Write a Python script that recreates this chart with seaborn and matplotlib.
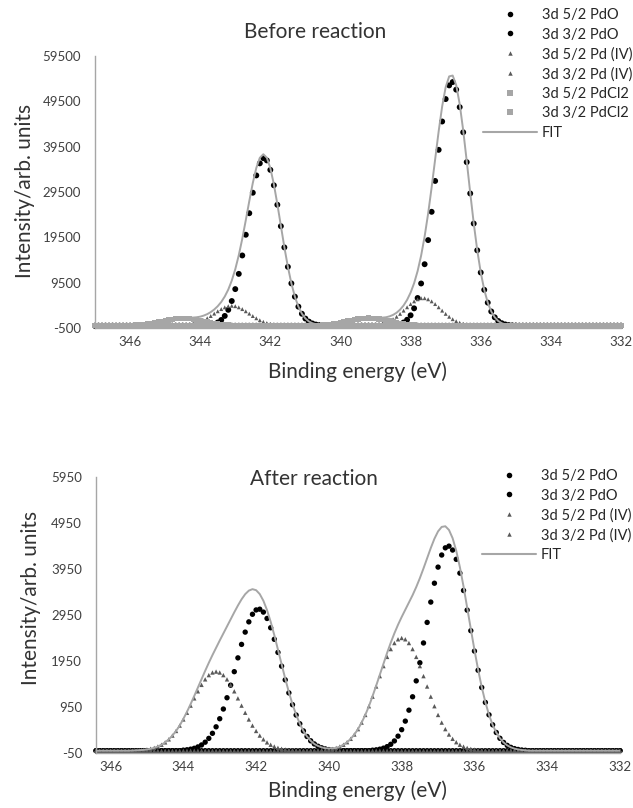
import numpy as np
import matplotlib
matplotlib.use("Agg")
import matplotlib.pyplot as plt
from matplotlib.lines import Line2D
import seaborn as sns

sns.set_style("white")
plt.rcParams["font.family"] = ["Lato", "DejaVu Sans"]

# ---------------- data (0.1 eV sampling) ----------------
top_energy = np.round(np.arange(347.0, 331.95, -0.1), 1)
bot_energy = np.round(np.arange(346.4, 331.95, -0.1), 1)

top_xticks = [346, 344, 342, 340, 338, 336, 334, 332]
top_yticks = [-500, 9500, 19500, 29500, 39500, 49500, 59500]
bot_xticks = [346, 344, 342, 340, 338, 336, 334, 332]
bot_yticks = [-50, 950, 1950, 2950, 3950, 4950, 5950]

top_labels = ["3d 5/2 PdO", "3d 3/2 PdO", "3d 5/2 Pd (IV)", "3d 3/2 Pd (IV)",
              "3d 5/2 PdCl2", "3d 3/2 PdCl2", "FIT"]
bot_labels = ["3d 5/2 PdO", "3d 3/2 PdO", "3d 5/2 Pd (IV)", "3d 3/2 Pd (IV)", "FIT"]

# --- Before reaction (first non-zero energy, then values every 0.1 eV downwards)
top_pdo52_start = 338.6
top_pdo52 = [41, 90, 190, 380, 720, 1320, 2300, 3840, 6120, 9320,
             13570, 18890, 25130, 31940, 38800, 45050, 50000, 53020, 53750, 52080,
             48220, 42670, 36090, 29180, 22540, 16640, 11740, 7920, 5100, 3150,
             1850, 1040, 560, 290, 140, 66, 30]
top_pdo32_start = 343.9
top_pdo32 = [46, 97, 200, 390, 720, 1270, 2160, 3510, 5450, 8080,
             11440, 15500, 20070, 24820, 29340, 33160, 35820, 36960, 36470, 34380,
             30980, 26680, 21960, 17280, 12990, 9340, 6410, 4210, 2640, 1580,
             910, 500, 260, 130, 62, 28]
top_pd4_52_start = 339.4
top_pd4_52 = [13, 26, 50, 90, 160, 270, 430, 670, 1000, 1440,
              1980, 2620, 3330, 4070, 4780, 5380, 5830, 6070, 6070, 5830,
              5380, 4780, 4070, 3330, 2620, 1980, 1440, 1000, 670, 430,
              270, 160, 90, 50, 26, 13]
top_pd4_32_start = 344.8
top_pd4_32 = [14, 26, 49, 87, 150, 250, 390, 590, 870, 1220,
              1650, 2140, 2670, 3190, 3670, 4060, 4310, 4400, 4310, 4060,
              3670, 3190, 2670, 2140, 1650, 1220, 870, 590, 390, 250,
              150, 87, 49, 26, 14]
top_pdcl2_52_start = 341.2
top_pdcl2_52 = [7, 11, 19, 31, 49, 75, 112, 163, 230, 316,
                423, 553, 699, 860, 1031, 1202, 1362, 1500, 1608, 1676,
                1700, 1676, 1608, 1500, 1362, 1202, 1031, 860, 699, 553,
                423, 316, 230, 163, 112, 75, 49, 31, 19, 11, 7]
top_pdcl2_32_start = 346.5
top_pdcl2_32 = [6, 11, 18, 29, 46, 70, 105, 150, 220, 300,
                400, 520, 660, 810, 970, 1130, 1280, 1410, 1510, 1580,
                1600, 1580, 1510, 1410, 1280, 1130, 970, 810, 660, 520,
                400, 300, 220, 150, 105, 70, 46, 29, 18, 11, 6]
top_fit_start = 346.5
top_fit = [6, 11, 18, 29, 46, 70, 105, 150, 220, 300,
           400, 520, 660, 810, 970, 1130, 1280, 1424, 1536, 1629,
           1687, 1730, 1760, 1800, 1870, 2000, 2236, 2557, 3000, 3580,
           4310, 5240, 6440, 7970, 9955, 12460, 15546, 19199, 23278, 27501,
           31486, 34810, 37040, 37830, 37060, 34770, 31230, 26830, 22047, 17329,
           13016, 9354, 6410, 4217, 2651, 1599, 941, 549, 335, 242,
           225, 258, 316, 423, 553, 699, 860, 1031, 1202, 1362,
           1500, 1621, 1702, 1750, 1766, 1768, 1770, 1792, 1872, 2072,
           2390, 2869, 3553, 4473, 5706, 7310, 9383, 12062, 15465, 19689,
           24751, 30529, 36731, 42877, 48380, 52620, 55000, 55190, 53080, 48890,
           43100, 36360, 29340, 22630, 16690, 11766, 7933, 5100, 3150, 1850,
           1040, 560, 290, 140, 66, 30]

# --- After reaction
bot_pdo52_start = 338.8
bot_pdo52 = [11, 19, 33, 55, 88, 139, 212, 316, 457, 643,
             881, 1172, 1518, 1912, 2342, 2789, 3231, 3641, 3991, 4254,
             4410, 4447, 4362, 4161, 3860, 3483, 3057, 2609, 2166, 1749,
             1374, 1049, 780, 563, 396, 270, 180, 116, 73, 45, 27, 15, 9]
bot_pdo32_start = 344.0
bot_pdo32 = [12, 20, 33, 52, 82, 125, 185, 268, 378, 519,
             695, 906, 1151, 1424, 1718, 2018, 2311, 2578, 2801, 2966,
             3060, 3076, 3013, 2875, 2673, 2422, 2137, 1838, 1540, 1257,
             1000, 775, 585, 430, 309, 215, 147, 97, 63, 39, 24, 14]
bot_pd4_52_start = 340.3
bot_pd4_52 = [6, 10, 15, 25, 39, 60, 89, 130, 185, 258,
              352, 469, 611, 777, 967, 1175, 1396, 1621, 1839, 2039,
              2209, 2340, 2422, 2450, 2422, 2340, 2209, 2039, 1839, 1621,
              1396, 1175, 967, 777, 611, 469, 352, 258, 185, 130,
              89, 60, 39, 25, 15, 10, 6]
bot_pd4_32_start = 345.4
bot_pd4_32 = [4, 7, 11, 17, 27, 42, 62, 91, 130, 181,
              247, 329, 429, 546, 679, 825, 980, 1138, 1291, 1431,
              1551, 1643, 1700, 1720, 1700, 1643, 1551, 1431, 1291, 1138,
              980, 825, 679, 546, 429, 329, 247, 181, 130, 91,
              62, 42, 27, 17, 11, 7, 4]
bot_fit_start = 345.4
bot_fit = [4, 7, 11, 17, 27, 42, 62, 91, 130, 181,
           247, 329, 429, 546, 691, 845, 1013, 1190, 1373, 1556,
           1736, 1911, 2078, 2239, 2395, 2549, 2702, 2855, 3009, 3156,
           3291, 3403, 3480, 3512, 3489, 3405, 3260, 3056, 2803, 2513,
           2199, 1880, 1567, 1274, 1011, 782, 589, 430, 309, 215,
           147, 103, 73, 54, 49, 53, 60, 89, 130, 185,
           258, 352, 469, 611, 777, 967, 1186, 1415, 1654, 1894,
           2127, 2348, 2552, 2738, 2907, 3065, 3221, 3381, 3557, 3751,
           3963, 4185, 4406, 4608, 4768, 4865, 4879, 4799, 4620, 4346,
           3990, 3572, 3117, 2648, 2191, 1764, 1384, 1055, 780, 563,
           396, 270, 180, 116, 73, 45, 27, 15, 9]


def spread(grid, start, vals):
    """Place the read values on the full energy grid (zero elsewhere)."""
    y = np.zeros(len(grid))
    i = int(np.argmin(np.abs(grid - start)))
    y[i:i + len(vals)] = vals
    return y


# ---------------- styles ----------------
CIRC = dict(marker="o", color="black", s=18)
TRI_T = dict(marker="^", color="#595959", s=8)
SQ = dict(marker="s", color="#a6a6a6", s=14)
TRI_B = dict(marker="^", color="#595959", s=10)
CIRC_B = dict(marker="o", color="black", s=15)
FIT_COLOR = "#a6a6a6"
AX_COLOR = "#a6a6a6"
TXT = "#404040"

W, H = 633, 808
fig = plt.figure(figsize=(W / 100, H / 100), dpi=100)


def fx(px):
    return px / W


def fy(py):
    return 1 - py / H


ax1 = fig.add_axes([fx(95), fy(328), (621 - 95) / W, (328 - 56) / H])
ax2 = fig.add_axes([fx(96), fy(753), (620 - 96) / W, (753 - 477) / H])


def scat(ax, x, y, st):
    sns.scatterplot(x=x, y=y, marker=st["marker"], color=st["color"], s=st["s"],
                    edgecolor="none", linewidth=0, ax=ax, legend=False, clip_on=False)


# ---- top chart
scat(ax1, top_energy, spread(top_energy, top_pdo52_start, top_pdo52), CIRC)
scat(ax1, top_energy, spread(top_energy, top_pdo32_start, top_pdo32), CIRC)
scat(ax1, top_energy, spread(top_energy, top_pd4_52_start, top_pd4_52), TRI_T)
scat(ax1, top_energy, spread(top_energy, top_pd4_32_start, top_pd4_32), TRI_T)
scat(ax1, top_energy, spread(top_energy, top_pdcl2_52_start, top_pdcl2_52), SQ)
scat(ax1, top_energy, spread(top_energy, top_pdcl2_32_start, top_pdcl2_32), SQ)
sns.lineplot(x=top_energy, y=spread(top_energy, top_fit_start, top_fit), sort=False,
             estimator=None, color=FIT_COLOR, lw=1.4, ax=ax1, legend=False)

# ---- bottom chart
scat(ax2, bot_energy, spread(bot_energy, bot_pdo52_start, bot_pdo52), CIRC_B)
scat(ax2, bot_energy, spread(bot_energy, bot_pdo32_start, bot_pdo32), CIRC_B)
scat(ax2, bot_energy, spread(bot_energy, bot_pd4_52_start, bot_pd4_52), TRI_B)
scat(ax2, bot_energy, spread(bot_energy, bot_pd4_32_start, bot_pd4_32), TRI_B)
sns.lineplot(x=bot_energy, y=spread(bot_energy, bot_fit_start, bot_fit), sort=False,
             estimator=None, color=FIT_COLOR, lw=1.4, ax=ax2, legend=False)

for ax, xlim, ylim, xt, yt in [(ax1, (347, 332), (-500, 59500), top_xticks, top_yticks),
                               (ax2, (346.4, 332), (-50, 5950), bot_xticks, bot_yticks)]:
    ax.set_xlim(*xlim)
    ax.set_ylim(*ylim)
    ax.set_xticks(xt)
    ax.set_yticks(yt)
    ax.set_xticklabels([str(v) for v in xt])
    ax.set_yticklabels([str(v) for v in yt])
    ax.set_xlabel("")
    ax.set_ylabel("")
    ax.tick_params(axis="both", length=0, labelsize=9.5, labelcolor=TXT)
    ax.tick_params(axis="y", pad=10)
    ax.tick_params(axis="x", pad=6)
    for side in ["top", "right"]:
        ax.spines[side].set_visible(False)
    for side in ["left", "bottom"]:
        ax.spines[side].set_color(AX_COLOR)
        ax.spines[side].set_linewidth(1.0)
    ax.grid(False)
    ax.set_facecolor("none")

# titles / axis titles
TFS = 15
fig.text(fx(315), fy(32), "Before reaction", ha="center", va="center", fontsize=TFS, color="#333333")
fig.text(fx(314), fy(479), "After reaction", ha="center", va="center", fontsize=TFS, color="#333333")
fig.text(fx(358), fy(372), "Binding energy (eV)", ha="center", va="center", fontsize=TFS, color="#333333")
fig.text(fx(358), fy(791), "Binding energy (eV)", ha="center", va="center", fontsize=TFS, color="#333333")
fig.text(fx(25), fy(191), "Intensity/arb. units", ha="center", va="center", rotation=90,
         fontsize=TFS, color="#333333")
fig.text(fx(31), fy(598), "Intensity/arb. units", ha="center", va="center", rotation=90,
         fontsize=TFS, color="#333333")


# legends
def handles(kinds):
    hs = []
    for k in kinds:
        if k == "fit":
            hs.append(Line2D([], [], color=FIT_COLOR, lw=1.5))
        else:
            st = {"c": ("o", "black", 4.0), "t": ("^", "#595959", 3.2), "s": ("s", "#a6a6a6", 3.8)}[k]
            hs.append(Line2D([], [], ls="none", marker=st[0], color=st[1], markersize=st[2],
                             markeredgewidth=0))
    return hs


leg_kw = dict(loc="upper left", frameon=False, fontsize=10.5, handlelength=3.7,
              handletextpad=0.35, labelspacing=0.38, borderpad=0, borderaxespad=0,
              labelcolor="#262626")
fig.legend(handles(["c", "c", "t", "t", "s", "s", "fit"]), top_labels,
           bbox_to_anchor=(fx(483), fy(8)), **leg_kw)
fig.legend(handles(["c", "c", "t", "t", "fit"]), bot_labels,
           bbox_to_anchor=(fx(482), fy(469)), **leg_kw)

fig.savefig("out.png", dpi=100)
